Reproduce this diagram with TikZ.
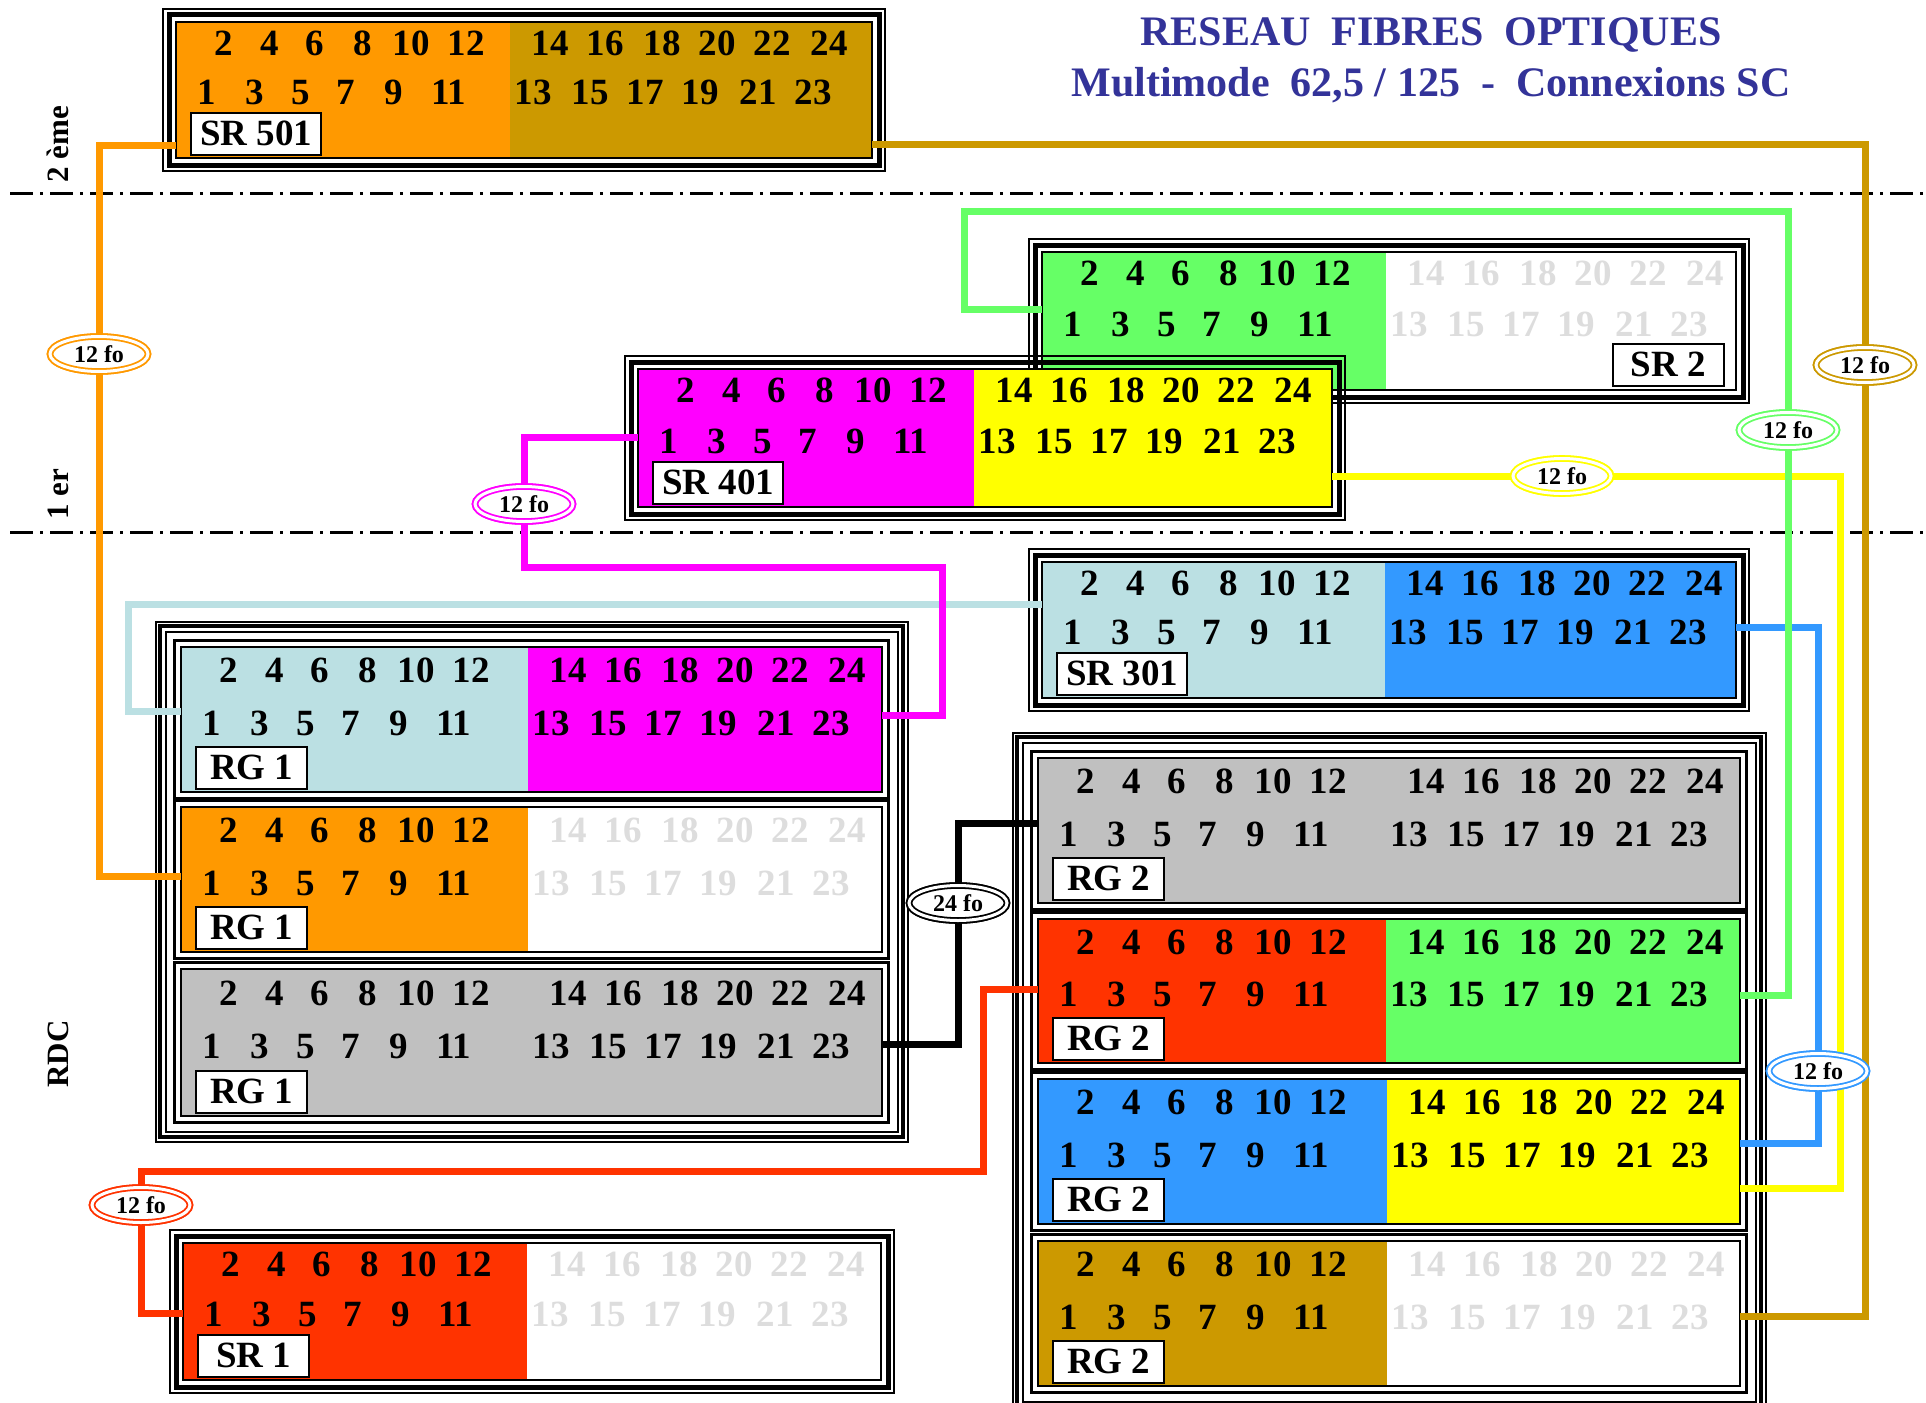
\documentclass[tikz,border=0pt]{standalone}
\usepackage{fontspec}
\setmainfont{Liberation Serif}
\usetikzlibrary{fit,shapes.geometric}
\definecolor{cOrange}{HTML}{FF9900}
\definecolor{cGold}{HTML}{CC9900}
\definecolor{cGreen}{HTML}{66FF66}
\definecolor{cMag}{HTML}{FF00FF}
\definecolor{cYel}{HTML}{FFFF00}
\definecolor{cLBlue}{HTML}{BBE0E3}
\definecolor{cBlue}{HTML}{3399FF}
\definecolor{cRed}{HTML}{FF3300}
\definecolor{cGray}{HTML}{C0C0C0}
\definecolor{cFaint}{HTML}{DDDDDD}
\definecolor{cTitle}{HTML}{333399}
\newcommand\fonum{\bfseries\fontsize{18.5pt}{18.5pt}\selectfont}
\def\labside{l}
\def\frmtype{s}
\def\foR{r}
\def\foS{s}
\def\fowhite{white}
\tikzset{
  num/.style={anchor=base, inner sep=0pt, font=\fonum},
  labelbox/.style={draw=black, line width=1.2pt, fill=white, inner xsep=4.5pt, inner ysep=0pt,
    minimum width=55.5pt, minimum height=21pt, font=\fonum},
  wire/.style={line width=3.5pt, line join=miter},
  fo/.style={ellipse, draw=#1, double=white, double distance=1.5pt, line width=0.9pt, fill=white,
    minimum width=49pt, minimum height=17.5pt, inner sep=0pt,
    font=\bfseries\fontsize{12pt}{12pt}\selectfont},
  floor/.style={rotate=90, inner sep=0pt, font=\bfseries\fontsize{15.5pt}{15.5pt}\selectfont},
  title/.style={anchor=base, inner sep=0pt, text=cTitle, font=\bfseries\fontsize{21pt}{21pt}\selectfont},
  dashdot/.style={line width=1.5pt, dash pattern=on 11.5pt off 3.5pt on 1.5pt off 3.5pt}
}
% #1 name, #2 x0, #3 y0, #4 x1, #5 y1, #6 split, #7 left colour, #8 right colour, #9 label
\newcommand\fopanel[9]{%
  \fill[#7] (#2,#3) rectangle (#6,#5);
  \fill[#8] (#6,#3) rectangle (#4,#5);
  \def\fotmp{#8}%
  \ifx\fotmp\fowhite\def\rtc{cFaint}\else\def\rtc{black}\fi
  \foreach \n/\dx in {2/48,4/94,6/139,8/187,10/235,12/290}
    \node[num] (#1-n\n) at ({#2+\dx},{#3+0.245*(#5-#3)}) {\n};
  \foreach \n/\dx in {1/31,3/79,5/125,7/170,9/218,11/273}
    \node[num] (#1-n\n) at ({#2+\dx},{#3+0.61*(#5-#3)}) {\n};
  \foreach \n/\dx in {14/40,16/95,18/152,20/207,22/262,24/319}
    \node[num,text=\rtc] (#1-n\n) at ({#6+\dx},{#3+0.245*(#5-#3)}) {\n};
  \foreach \n/\dx in {13/23,15/80,17/135,19/190,21/248,23/303}
    \node[num,text=\rtc] (#1-n\n) at ({#6+\dx},{#3+0.61*(#5-#3)}) {\n};
  \draw[line width=1pt] (#2,#3) rectangle (#4,#5);
  \ifx\frmtype\foS
    \draw[line width=2.5pt] ({#2-7},{#3-7}) rectangle ({#4+7},{#5+7});
    \draw[line width=1pt] ({#2-13},{#3-13}) rectangle ({#4+13},{#5+13});
  \else
    \draw[line width=1.4pt] ({#2-6.5},{#3-6.5}) rectangle ({#4+6.5},{#5+6.5});
  \fi
  \ifx\labside\foR
    \node[labelbox, anchor=south east] (#1-lab) at ({#4-11},{#5-3}) {#9};
  \else
    \node[labelbox, anchor=south west] (#1-lab) at ({#2+14},{#5-2}) {#9};
  \fi
  \node[fit={(#2,#3) (#4,#5)}, inner sep=0pt] (#1) {};
}
\newcommand\fogroup[4]{%
  \draw[line width=1pt] ({#1-15.5},{#2-15.5}) rectangle ({#3+15.5},{#4+15.5});
  \draw[line width=2.2pt] ({#1-21},{#2-21}) rectangle ({#3+21},{#4+21});
  \draw[line width=1pt] ({#1-25.5},{#2-25.5}) rectangle ({#3+25.5},{#4+25.5});
}
\begin{document}
\begin{tikzpicture}[x=0.5pt,y=-0.5pt]
\useasboundingbox (0,0) rectangle (1926,1402);
\fill[white] (0,0) rectangle (1926,1402);
% title
\node[title] (t1) at (1431,46) {RESEAU\ \ FIBRES\ \ OPTIQUES};
\node[title] (t2) at (1431,97) {Multimode\ \ 62,5 / 125\ \ -\ \ Connexions SC};
% floors
\draw[dashdot] (10,193) -- (1926,193);
\draw[dashdot] (10,532) -- (1926,532);
\node[floor] (f2) at (58,144) {2 ème};
\node[floor] (f1) at (58,494) {1 er};
\node[floor] (f0) at (58,1054) {RDC};
% standalone panels
\fopanel{sr501}{176}{22}{872}{158}{510}{cOrange}{cGold}{SR 501}
\def\labside{r}
\fopanel{sr2}{1042}{252}{1736}{390}{1386}{cGreen}{white}{SR 2}
\def\labside{l}
\fopanel{sr401}{638}{369}{1332}{507}{974}{cMag}{cYel}{SR 401}
\fopanel{sr301}{1042}{562}{1736}{698}{1385}{cLBlue}{cBlue}{SR 301}
\fopanel{sr1}{183}{1243}{881}{1380}{527}{cRed}{white}{SR 1}
% RG groups
\def\frmtype{g}
\fopanel{rg1a}{181}{647}{882}{792}{528}{cLBlue}{cMag}{RG 1}
\fopanel{rg1b}{181}{807}{882}{952}{528}{cOrange}{white}{RG 1}
\fopanel{rg1c}{181}{969}{882}{1116}{528}{cGray}{cGray}{RG 1}
\fogroup{181}{647}{882}{1116}
\fopanel{rg2a}{1038}{758}{1740}{903}{1386}{cGray}{cGray}{RG 2}
\fopanel{rg2b}{1038}{919}{1740}{1063}{1386}{cRed}{cGreen}{RG 2}
\fopanel{rg2c}{1038}{1079}{1740}{1224}{1387}{cBlue}{cYel}{RG 2}
\fopanel{rg2d}{1038}{1241}{1740}{1386}{1387}{cGold}{white}{RG 2}
\fogroup{1038}{758}{1740}{1386}
% cable labels (placed first, redrawn on top)
\path (99,354) node[fo=cOrange] (eo) {12 fo};
\path (1865,365) node[fo=cGold] (eo2) {12 fo};
\path (1788,430) node[fo=cGreen] (eg) {12 fo};
\path (524,504) node[fo=cMag] (em) {12 fo};
\path (1562,476) node[fo=cYel] (ey) {12 fo};
\path (1818,1071) node[fo=cBlue] (eb) {12 fo};
\path (141,1205) node[fo=cRed] (er) {12 fo};
\path (958,903) node[fo=black] (ek) {24 fo};
% connectors
\draw[wire,cLBlue] (sr301.west |- 0,604) -| (128,711) -- (rg1a.west |- 0,711);
\draw[wire,cMag] (sr401.west |- 0,437) -| (em) |- (942,567) |- (rg1a.east |- 0,715);
\draw[wire,cOrange] (sr501.west |- 0,145) -| (eo) |- (rg1b.west |- 0,876);
\draw[wire,cGold] (sr501.east |- 0,144) -| (eo2) |- (rg2d.east |- 0,1316);
\draw[wire,cYel] (sr401.east |- 0,476) -- (ey) -| (1840,1188) -- (rg2c.east |- 0,1188);
\draw[wire,cBlue] (sr301.east |- 0,627) -| (eb) |- (rg2c.east |- 0,1143);
\draw[wire,cGreen] (sr2.west |- 0,309) -| (964,211) -| (eg) |- (rg2b.east |- 0,995);
\draw[wire,cRed] (rg2b.west |- 0,989) -| (983,1171) -| (er) |- (sr1.west |- 0,1313);
\draw[wire,black] (rg1c.east |- 0,1044) -| (ek) |- (rg2a.west |- 0,823);
% cable labels on top
\path (99,354) node[fo=cOrange] (eo-t) {12 fo};
\path (1865,365) node[fo=cGold] (eo2-t) {12 fo};
\path (1788,430) node[fo=cGreen] (eg-t) {12 fo};
\path (524,504) node[fo=cMag] (em-t) {12 fo};
\path (1562,476) node[fo=cYel] (ey-t) {12 fo};
\path (1818,1071) node[fo=cBlue] (eb-t) {12 fo};
\path (141,1205) node[fo=cRed] (er-t) {12 fo};
\path (958,903) node[fo=black] (ek-t) {24 fo};
\end{tikzpicture}
\end{document}
